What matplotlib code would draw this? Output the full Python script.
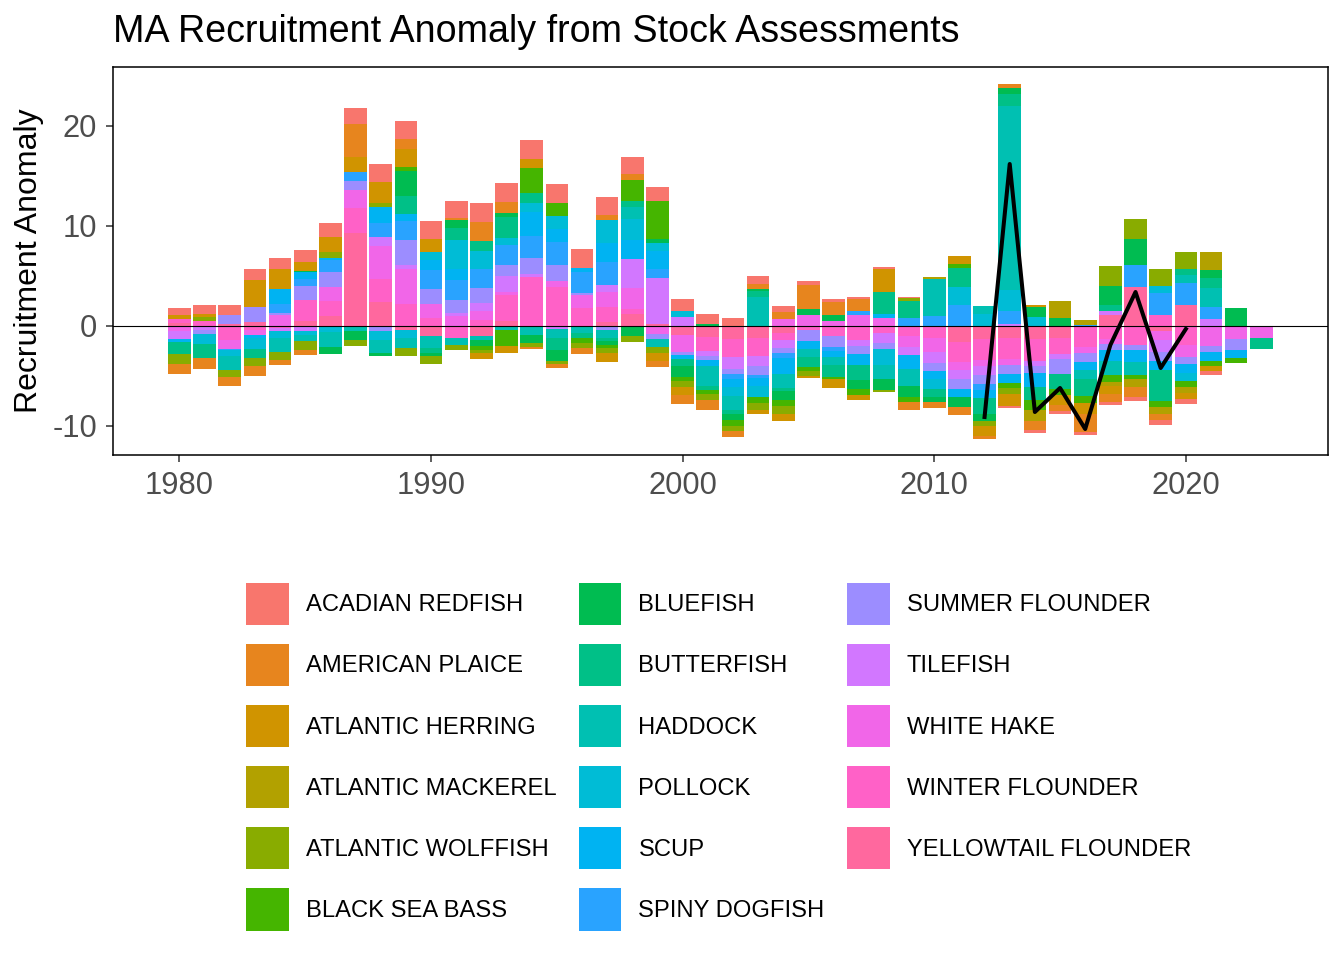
import matplotlib.pyplot as plt
from matplotlib.patches import Patch
import numpy as np

plt.rcParams['font.family'] = ['Liberation Sans', 'DejaVu Sans']
plt.rcParams['axes.unicode_minus'] = False

# lata 1980-2023
years = list(range(1980, 2024))

species = ['ACADIAN REDFISH', 'AMERICAN PLAICE', 'ATLANTIC HERRING', 'ATLANTIC MACKEREL',
           'ATLANTIC WOLFFISH', 'BLACK SEA BASS', 'BLUEFISH', 'BUTTERFISH', 'HADDOCK',
           'POLLOCK', 'SCUP', 'SPINY DOGFISH', 'SUMMER FLOUNDER', 'TILEFISH',
           'WHITE HAKE', 'WINTER FLOUNDER', 'YELLOWTAIL FLOUNDER']

# anomalie (wiersze: 1980s, 1990s, 2000s, 2010s, 2020s)
acadian_redfish = [.75, .87, 1.0, 1.1, 1.1, 1.17, 1.4, 1.6, 1.8, 1.8,
                   1.8, 1.7, 1.9, 1.9, 1.9, 1.9, 1.9, 1.8, 1.7, 1.4,
                   1.2, .97, .8, .8, .6, .4, .3, .2, .2, .1,
                   0, 0, 0, -.2, -.27, -.3, -.3, -.3, -.4, -.5,
                   -.5, -.4, 0, 0]
american_plaice = [-1.0, -1.1, -.9, -1.0, -.45, -.53, 0, 3.3, 0, 1.0,
                   0, .2, 1.9, 1.1, -.2, -.4, -.6, .5, .6, -.6,
                   -.93, -1.0, -.6, .5, .7, 2.4, 1.3, 1.2, 0, -.8,
                   -.57, -.83, -.3, .4, -.9, -.6, -1.8, -.8, -1.0, -.6,
                   0, 0, 0, 0]
atlantic_herring = [.35, .33, 0, 2.7, 2.0, .93, 1.5, 1.5, 2.1, 1.8,
                    1.3, 0, -.6, -.7, .9, 0, 0, -.9, 0, -.8,
                    -.8, 0, 0, -.4, -.7, -.2, -.9, -.5, 2.3, 0,
                    0, .83, -1.0, -1.2, .2, -1.0, -1.1, -.8, 0, 0,
                    -.6, -.5, 0, 0]
atlantic_mackerel = [0, 0, 0, 0, 0, 0, 0, 0, 0, 0,
                     0, 0, 0, 0, 0, 0, 0, 0, 0, 0,
                     0, 0, 0, 0, 0, 0, 0, 0, 0, 0,
                     .2, 0, 0, 0, -1.1, 1.7, .5, -.4, -.8, -.7,
                     -.6, 1.8, 0, 0]
atlantic_wolffish = [-1.0, .4, -.7, -.8, -.85, -.9, .57, -.6, .4, -.8,
                     -.8, -.5, -.3, 0, -.4, -.3, -.5, -.5, -.6, -.6,
                     -.6, -.6, -.5, -.7, -.8, -.5, 0, 0, -.2, .3,
                     0, 0, -.5, -.6, 0, 0, 0, 2.0, 2.0, 1.7,
                     1.7, 0, 0, 0]
black_sea_bass = [0, 0, 0, 0, 0, 0, 0, 0, 0, .4,
                  0, 0, -.4, -1.6, 2.5, 1.3, -.5, -.3, 2.1, 3.8,
                  -.4, -.4, -.6, -.63, -.6, -.4, -.2, -.6, 0, -.5,
                  0, .37, 0, -.5, -1.0, -.6, -.7, -.7, -.4, -.6,
                  -.6, -.5, -.5, 0]
bluefish = [0, 0, 0, 0, 0, .1, -.7, -.9, -.3, 2.5,
            -.3, .8, -.6, .4, -.8, -1.1, 0, -.4, -1.0, .4,
            -1.1, .23, -.6, .2, -.9, .6, .6, -.9, -1.1, -1.1,
            -.5, -1.0, -.63, .6, 1.0, .8, 0, 1.9, 2.6, 0,
            0, .8, 1.8, 0]
butterfish = [-1.27, -1.4, 0, -.9, 0, 0, 0, 0, 0, 1.8,
              -.5, 1.17, 1.0, 2.1, 1.0, -1.2, -.5, -.3, .6, 0,
              -.73, -.43, -.4, .6, -.3, -1.0, -1.2, -1.5, 2.2, 1.7,
              -.8, 1.9, -1.6, 1.2, -1.3, -1.5, -1.7, .6, 0, -3.1,
              .6, 1.0, 0, -1.1]
haddock = [0, 0, -1.4, 0, -1.4, -.57, -1.47, -.55, -1.3, -1.0,
           -1.2, -.7, -.4, -.45, -.95, -.9, -.75, -.8, 1.2, -.8,
           0, -2.0, -1.4, 2.9, -1.4, -.8, -.8, 0, -1.4, -1.7,
           3.7, 0, .8, 18.4, 0, 0, -.9, -1.4, -1.3, 0,
           .8, 1.9, 0, 0]
pollock = [0, -1.0, -.6, -1.1, -.7, -.43, -.6, 0, -.9, -.8,
           .8, 2.93, 1.8, .7, .9, 1.3, 0, 2.3, 2.1, .8,
           .6, 0, -.9, -1.07, 0, 0, 0, 0, -1.6, 0,
           -1.0, 1.8, 1.2, 2.1, .9, 0, 0, 0, 0, .7,
           -.8, 0, 0, 0]
scup = [-.23, 0, 0, -.3, 1.5, .7, .23, 0, 1.6, .7,
        1.0, 1.1, 0, 0, 2.4, 1.3, .4, 1.9, 1.9, 1.8,
        -.33, -.6, -.8, -.8, -1.6, -.8, -.6, -1.1, .4, -1.4,
        -.8, -.77, -.8, -.9, -1.4, 0, -.8, -1.1, -1.2, -.9,
        -.9, -.9, -.8, 0]
spiny_dogfish = [0, 0, -.1, 0, .87, .7, 1.2, .9, 1.4, 1.9,
                 1.9, 2.0, 1.9, 2.0, 2.2, 2.3, 2.1, 2.3, 0, .9,
                 0, 0, -.5, -.3, -.5, 0, -.4, .4, 0, .8,
                 1.0, 2.1, -.6, 1.3, 0, 0, .1, 0, 2.2, 2.2,
                 2.2, 1.2, 0, 0]
summer_flounder = [0, -.4, .9, 1.47, .23, 1.4, 1.5, .9, -.55, 2.5,
                   1.5, 1.3, 1.5, 1.1, 1.6, 1.6, .2, -.45, 0, -.5,
                   -.33, -.4, -.5, -.9, -.5, -1.1, -1.13, -.8, -.6, 0,
                   -.8, -1.0, -.93, -.9, -.7, -1.5, -.9, -.6, -.5, -.9,
                   -.7, -.6, -1.1, 0]
tilefish = [-.83, -.43, 0, 0, -.25, -.5, 0, 0, .87, .4,
            0, .3, .8, 1.57, .3, -.35, 0, .7, 2.9, 4.6,
            .9, -.5, -1.23, -1.0, -.8, 0, 0, -.6, -1.0, -.8,
            -1.17, -.87, -.9, .2, -.5, -.5, 0, .4, 0, -1.2,
            0, .7, 0, 0]
white_hake = [-.5, 0, -.9, -.5, 1.1, 0, 1.4, 1.8, 3.33, 3.5,
              1.4, 1.0, .9, .33, 0, .6, 1.3, 1.5, 2.1, -.85,
              -1.73, 0, 0, 0, .7, 1.1, .5, 1.1, .8, -1.1,
              -1.4, -.87, -.6, -.6, 0, 0, -.6, -.5, 0, -.9,
              -1.2, -2.0, -1.3, -1.2]
winter_flounder = [.4, .5, -1.4, -.45, -.25, 2.1, 1.5, 2.5, 2.27, 2.2,
                   .8, -1.2, .6, 2.6, 4.9, 3.9, 1.8, 1.5, .5, 0,
                   0, -1.37, -1.77, -1.8, -.77, -.43, -1.0, -1.43, -.73, -1.0,
                   -1.17, -2.0, -2.1, -2.1, -2.2, -1.6, -2.1, -1.3, -1.9, 1.1,
                   -1.9, 0, 0, 0]
yellowtail_flounder = [.3, 0, .2, .43, 0, .5, 1.0, 9.3, 2.43, -.45,
                       -1.05, 0, -1.05, .5, 0, 0, 0, .4, 1.2, .2,
                       -.87, -1.13, -1.33, -1.23, -.67, 0, 0, 0, 0, 0,
                       0, -1.57, -1.3, -1.2, -1.3, -1.2, 0, 1.1, 3.9, -.5,
                       2.1, 0, 0, 0]

# czarna linia (suma) 2012-2020
line_years = [2012, 2013, 2014, 2015, 2016, 2017, 2018, 2019, 2020]
line_values = [-9.1, 16.2, -8.6, -6.2, -10.3, -1.9, 3.4, -4.2, -0.3]

values = [acadian_redfish, american_plaice, atlantic_herring, atlantic_mackerel,
          atlantic_wolffish, black_sea_bass, bluefish, butterfish, haddock,
          pollock, scup, spiny_dogfish, summer_flounder, tilefish,
          white_hake, winter_flounder, yellowtail_flounder]


# kolory jak w ggplot (hue_pal, hcl c=100 l=65)
def hue_pal(n, c=100.0, l=65.0):
    hues = np.linspace(15, 375 - 360 / n, n)
    xn, yn, zn = 95.047, 100.0, 108.883
    un = 4 * xn / (xn + 15 * yn + 3 * zn)
    vn = 9 * yn / (xn + 15 * yn + 3 * zn)
    cols = []
    for h in hues:
        u = c * np.cos(np.radians(h))
        v = c * np.sin(np.radians(h))
        Y = yn * ((l + 16) / 116) ** 3
        up = u / (13 * l) + un
        vp = v / (13 * l) + vn
        X = 9.0 * Y * up / (4 * vp)
        Z = -X / 3 - 5 * Y + 3 * Y / vp
        X, Y, Z = X / 100, Y / 100, Z / 100
        rgb = [3.240479 * X - 1.537150 * Y - 0.498535 * Z,
               -0.969256 * X + 1.875992 * Y + 0.041556 * Z,
               0.055648 * X - 0.204043 * Y + 1.057311 * Z]
        out = []
        for t in rgb:
            t = 12.92 * t if t <= 0.0031308 else 1.055 * t ** (1 / 2.4) - 0.055
            out.append(min(max(t, 0), 1))
        cols.append(tuple(out))
    return cols


colors = hue_pal(len(species))

fig = plt.figure(figsize=(13.44, 9.6), dpi=100)
ax = fig.add_axes([113 / 1344, 1 - 455 / 960, 1215 / 1344, 388 / 960])

x = np.array(years)
pos_base = np.zeros(len(years))
neg_base = np.zeros(len(years))
# ostatni gatunek najblizej zera (jak position_stack w ggplot)
for name, vals, col in reversed(list(zip(species, values, colors))):
    v = np.array(vals, dtype=float)
    p = np.where(v > 0, v, 0)
    n = np.where(v < 0, v, 0)
    ax.bar(x, p, bottom=pos_base, width=0.9, color=col, linewidth=0)
    ax.bar(x, n, bottom=neg_base, width=0.9, color=col, linewidth=0)
    pos_base += p
    neg_base += n

ax.axhline(0, color='black', linewidth=0.8)
ax.plot(line_years, line_values, color='black', linewidth=2.9, solid_joinstyle='round')

ax.set_xlim(1977.36, 2025.65)
ax.set_ylim(-12.9, 25.9)
ax.set_xticks([1980, 1990, 2000, 2010, 2020])
ax.set_yticks([-10, 0, 10, 20])
ax.tick_params(length=5, width=1.1, color='#333333', labelcolor='#4D4D4D',
               labelsize=22.2, pad=6.5)
for s in ax.spines.values():
    s.set_color('black')
    s.set_linewidth(1.1)

fig.text(113 / 1344, 1 - 41.5 / 960, 'MA Recruitment Anomaly from Stock Assessments',
         fontsize=27.1, va='baseline', ha='left')
fig.text(29 / 1344, 1 - 261 / 960, 'Recruitment Anomaly', fontsize=23,
         rotation=90, va='center', ha='center')

handles = [Patch(facecolor=c, edgecolor='none', label=s) for s, c in zip(species, colors)]
fig.legend(handles=handles, loc='upper left', bbox_to_anchor=(246 / 1344, 1 - 583 / 960),
           ncol=3, frameon=False, fontsize=17.1, handlelength=1.8, handleheight=2.35,
           handletextpad=0.72, labelspacing=0.8, columnspacing=0.93,
           borderpad=0, borderaxespad=0)

plt.savefig('out.png', dpi=100)
